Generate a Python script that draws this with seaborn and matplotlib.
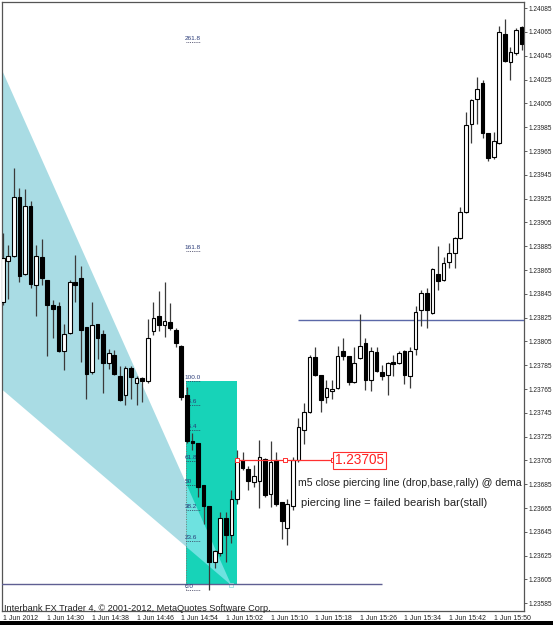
import matplotlib
matplotlib.use("Agg")
import matplotlib.pyplot as plt
import seaborn as sns
import numpy as np
import pandas as pd
from matplotlib.patches import Rectangle, Polygon

# ---------------- data (M1 bars, 1 Jun 2012 14:22 - 15:55) ----------------
open_ = [1.23838, 1.23873, 1.23877, 1.23926, 1.23862, 1.23919, 1.23852, 1.23876, 1.23857, 1.23836,
         1.23835, 1.23797, 1.23812, 1.23855, 1.23858, 1.23817, 1.23779, 1.23820, 1.23811, 1.23787,
         1.23794, 1.23776, 1.23760, 1.23783, 1.23770, 1.23774, 1.23772, 1.23814, 1.23826, 1.23819,
         1.23821, 1.23815, 1.23801, 1.23760, 1.23721, 1.23720, 1.23684, 1.23667, 1.23620, 1.23627,
         1.23657, 1.23642, 1.23673, 1.23705, 1.23698, 1.23687, 1.23688, 1.23706, 1.23677, 1.23705,
         1.23670, 1.23648, 1.23667, 1.23705, 1.23731, 1.23746, 1.23792, 1.23777, 1.23758, 1.23763,
         1.23766, 1.23797, 1.23793, 1.23771, 1.23791, 1.23804, 1.23773, 1.23796, 1.23779, 1.23777,
         1.23788, 1.23787, 1.23797, 1.23776, 1.23799, 1.23831, 1.23846, 1.23829, 1.23862, 1.23857,
         1.23872, 1.23879, 1.23892, 1.23914, 1.23988, 1.24009, 1.24022, 1.23980, 1.23960, 1.23972,
         1.24063, 1.24040, 1.24047, 1.24069]
high = [1.23896, 1.23886, 1.23951, 1.23934, 1.23933, 1.23923, 1.23886, 1.23891, 1.23857, 1.23840,
        1.23838, 1.23820, 1.23857, 1.23878, 1.23868, 1.23817, 1.23838, 1.23820, 1.23815, 1.23799,
        1.23798, 1.23784, 1.23784, 1.23784, 1.23776, 1.23775, 1.23824, 1.23838, 1.23847, 1.23855,
        1.23837, 1.23816, 1.23802, 1.23767, 1.23728, 1.23720, 1.23684, 1.23667, 1.23630, 1.23662,
        1.23662, 1.23680, 1.23714, 1.23712, 1.23700, 1.23701, 1.23722, 1.23707, 1.23721, 1.23712,
        1.23670, 1.23673, 1.23708, 1.23741, 1.23753, 1.23794, 1.23800, 1.23777, 1.23773, 1.23773,
        1.23801, 1.23808, 1.23793, 1.23800, 1.23828, 1.23808, 1.23800, 1.23800, 1.23785, 1.23788,
        1.23794, 1.23797, 1.23798, 1.23800, 1.23835, 1.23848, 1.23850, 1.23867, 1.23885, 1.23876,
        1.23888, 1.23893, 1.23918, 1.23998, 1.24009, 1.24027, 1.24025, 1.23980, 1.23981, 1.24070,
        1.24076, 1.24052, 1.24068, 1.24070]
low = [1.23836, 1.23841, 1.23876, 1.23855, 1.23861, 1.23850, 1.23826, 1.23852, 1.23793, 1.23808,
       1.23796, 1.23781, 1.23811, 1.23838, 1.23788, 1.23757, 1.23778, 1.23790, 1.23762, 1.23782,
       1.23777, 1.23755, 1.23752, 1.23757, 1.23752, 1.23754, 1.23770, 1.23810, 1.23814, 1.23809,
       1.23815, 1.23800, 1.23756, 1.23720, 1.23714, 1.23674, 1.23652, 1.23596, 1.23615, 1.23625,
       1.23620, 1.23636, 1.23668, 1.23697, 1.23680, 1.23683, 1.23665, 1.23674, 1.23666, 1.23667,
       1.23639, 1.23634, 1.23663, 1.23704, 1.23719, 1.23745, 1.23776, 1.23746, 1.23753, 1.23757,
       1.23765, 1.23789, 1.23768, 1.23770, 1.23790, 1.23764, 1.23763, 1.23779, 1.23773, 1.23760,
       1.23776, 1.23786, 1.23769, 1.23766, 1.23794, 1.23818, 1.23816, 1.23828, 1.23848, 1.23856,
       1.23867, 1.23867, 1.23891, 1.23913, 1.23972, 1.23988, 1.23976, 1.23957, 1.23958, 1.23971,
       1.24040, 1.24025, 1.24046, 1.24050]
close = [1.23875, 1.23877, 1.23926, 1.23860, 1.23919, 1.23853, 1.23877, 1.23858, 1.23836, 1.23832,
         1.23797, 1.23811, 1.23855, 1.23852, 1.23815, 1.23778, 1.23819, 1.23808, 1.23787, 1.23795,
         1.23778, 1.23756, 1.23783, 1.23775, 1.23774, 1.23772, 1.23808, 1.23825, 1.23819, 1.23822,
         1.23816, 1.23804, 1.23758, 1.23721, 1.23720, 1.23683, 1.23667, 1.23620, 1.23629, 1.23657,
         1.23642, 1.23673, 1.23705, 1.23699, 1.23688, 1.23692, 1.23708, 1.23676, 1.23704, 1.23668,
         1.23654, 1.23668, 1.23705, 1.23733, 1.23746, 1.23792, 1.23777, 1.23756, 1.23766, 1.23765,
         1.23793, 1.23793, 1.23771, 1.23787, 1.23801, 1.23773, 1.23797, 1.23780, 1.23776, 1.23787,
         1.23786, 1.23795, 1.23777, 1.23797, 1.23830, 1.23846, 1.23831, 1.23866, 1.23856, 1.23871,
         1.23879, 1.23892, 1.23914, 1.23987, 1.24008, 1.24017, 1.23980, 1.23959, 1.23973, 1.24065,
         1.24041, 1.24048, 1.24067, 1.24055]

x_tick_bars = [0, 8, 16, 24, 32, 40, 48, 56, 64, 72, 80, 88]
x_tick_labels = ["1 Jun 2012", "1 Jun 14:30", "1 Jun 14:38", "1 Jun 14:46", "1 Jun 14:54",
                 "1 Jun 15:02", "1 Jun 15:10", "1 Jun 15:18", "1 Jun 15:26", "1 Jun 15:34",
                 "1 Jun 15:42", "1 Jun 15:50"]
y_ticks = [1.23585, 1.23605, 1.23625, 1.23645, 1.23665, 1.23685, 1.23705, 1.23725, 1.23745,
           1.23765, 1.23785, 1.23805, 1.23825, 1.23845, 1.23865, 1.23885, 1.23905, 1.23925,
           1.23945, 1.23965, 1.23985, 1.24005, 1.24025, 1.24045, 1.24065, 1.24085]

fib_levels = [0.0, 23.6, 38.2, 50.0, 61.8, 76.4, 88.6, 100.0, 161.8, 261.8]
fib_labels = ["0.0", "23.6", "38.2", "50", "61.8", "76.4", "88.6", "100.0", "161.8", "261.8"]
fib_low, fib_high = 1.23596, 1.23772
fib_bar = 32.9

rect_bars = (33, 42)
rect_prices = (1.23600, 1.23772)
tri_points = [(-0.215, 1.24034), (-0.215, 1.23765), (41, 1.23600)]
hline_upper = 1.23823
hline_lower = 1.23601
red_level = 1.23705
red_span = (42, 59.2)

note1 = "m5 close piercing line (drop,base,rally) @ dema"
note2 = "piercing line = failed bearish bar(stall)"
footer = "Interbank FX Trader 4, \u00a9 2001-2012, MetaQuotes Software Corp."

# ---------------- figure ----------------
sns.set_style("white")
plt.rcParams["font.family"] = ["Liberation Sans", "DejaVu Sans"]

W, H = 553, 625
fig = plt.figure(figsize=(W / 100, H / 100), dpi=100)
fig.patch.set_facecolor("white")
ax = fig.add_axes([1.5 / W, (H - 611) / H, (524 - 1.5) / W, (611 - 2) / H])
ax.set_facecolor("white")

df = pd.DataFrame({"bar": np.arange(len(open_)), "open": open_, "high": high,
                   "low": low, "close": close})
df["bull"] = df["close"] >= df["open"]
df["bottom"] = df[["open", "close"]].min(axis=1)
df["height"] = (df["close"] - df["open"]).abs().clip(lower=0.000012)

# light-blue triangle, turquoise rectangle, lighter overlap
tri = Polygon(tri_points, closed=True, facecolor="#a9dce4", edgecolor="none", zorder=1)
ax.add_patch(tri)
rect = Rectangle((rect_bars[0] - 0.1, rect_prices[0]), rect_bars[1] - rect_bars[0],
                 rect_prices[1] - rect_prices[0], facecolor="#17d3b8", edgecolor="none", zorder=2)
ax.add_patch(rect)
tri2 = Polygon(tri_points, closed=True, facecolor="#6ee2e0", edgecolor="none", zorder=3)
ax.add_patch(tri2)
tri2.set_clip_path(rect)
ax.plot([tri_points[2][0]], [tri_points[2][1]], marker="s", ms=3, mfc="white",
        mec="#9adede", mew=0.6, zorder=4)

# horizontal lines
ax.hlines(hline_upper, 52.9, 100, color="#5b68a8", lw=1.0, zorder=4)
ax.hlines(hline_lower, -1, 68, color="#5f5f92", lw=1.0, zorder=4)

# fibonacci
ax.vlines(fib_bar, fib_low, fib_high, color="#777777", lw=0.7, linestyles=(0, (1, 1.5)), zorder=4)
for lv, lb in zip(fib_levels, fib_labels):
    p = fib_low + (fib_high - fib_low) * lv / 100.0
    ax.hlines(p, fib_bar, fib_bar + 2.5, color="#333355", lw=0.6, linestyles=(0, (1, 1.2)), zorder=4)
    ax.text(fib_bar - 0.25, p + 0.000008, lb, fontsize=4.6, color="#2a3b78", ha="left",
            va="bottom", zorder=4)

# candles
wick_color = "#3a3a3a"
ax.vlines(df["bar"], df["low"], df["high"], color=wick_color, lw=0.9, zorder=5)
bull = df[df["bull"]]
bear = df[~df["bull"]]
ax.bar(bull["bar"], bull["height"], bottom=bull["bottom"], width=0.66, color="white",
       edgecolor="black", linewidth=0.8, zorder=6)
ax.bar(bear["bar"], bear["height"], bottom=bear["bottom"], width=0.66, color="black",
       edgecolor="black", linewidth=0.8, zorder=6)

# red trend line with label
ax.hlines(red_level, red_span[0], red_span[1], color="#ff3030", lw=0.9, zorder=7)
mk = pd.DataFrame({"x": [red_span[0], (red_span[0] + red_span[1]) / 2, red_span[1]],
                   "y": [red_level] * 3})
sns.scatterplot(data=mk, x="x", y="y", marker="s", s=9, facecolor="white",
                edgecolor="#ff3030", linewidth=0.7, zorder=8, ax=ax, legend=False)
ax.text(red_span[1] + 0.35, red_level, "1.23705", fontsize=9.8, color="#ff2020",
        ha="left", va="center", zorder=9,
        bbox=dict(boxstyle="square,pad=0.12", facecolor="white", edgecolor="#ff3030", lw=0.8))

ax.text(52.9, 1.23686, note1, fontsize=7.55, color="#222222", ha="left", va="center",
        zorder=9, clip_on=True)
ax.text(53.4, 1.23669, note2, fontsize=8.0, color="#222222", ha="left", va="center", zorder=9)

ax.text(0.2, 1.235805, footer, fontsize=6.55, color="#222222", ha="left", va="center", zorder=9)

# axes
ax.set_xlim(-0.215, 93.42)
ax.set_ylim(1.235785, 1.240902)
ax.yaxis.tick_right()
ax.set_yticks(y_ticks)
ax.set_yticklabels([f"{v:.5f}" for v in y_ticks], fontsize=4.7, color="#222222")
ax.set_xticks(x_tick_bars)
ax.set_xticklabels(x_tick_labels, fontsize=5.0, color="#222222", ha="left")
ax.tick_params(axis="both", length=2.0, width=0.6, color="#444444", pad=1.0, direction="out")
ax.set_xlabel("")
ax.set_ylabel("")
for s in ax.spines.values():
    s.set_visible(True)
    s.set_color("#555555")
    s.set_linewidth(0.9)

fig.patches.append(Rectangle((0, 0), 1, 4 / H, transform=fig.transFigure,
                             facecolor="black", edgecolor="none", zorder=10))

fig.savefig("out.png", dpi=100)
